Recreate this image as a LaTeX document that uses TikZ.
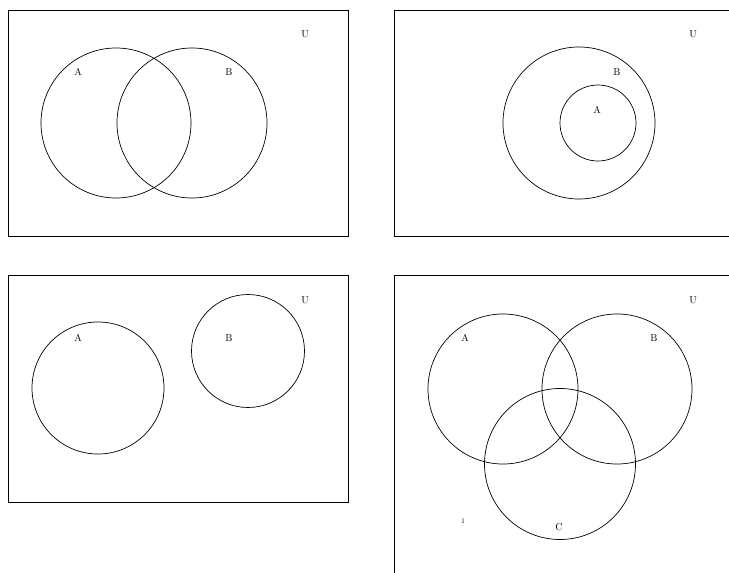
\documentclass[tikz,border=0pt]{standalone}
\begin{document}
\begin{tikzpicture}[x=1pt,y=-1pt,
  setcirc/.style={circle,draw,line width=0.7pt,inner sep=0pt,minimum size=#1},
  frame/.style={draw,line width=0.7pt},
  lab/.style={inner sep=0pt,font=\normalsize}]
\useasboundingbox (0,0) rectangle (729,573);
\clip (0,0) rectangle (729,573);
% panel 1
\draw[frame] (8,10) rectangle (348,236);
\node[setcirc=150pt] (p1a) at (116,123) {};
\node[setcirc=150pt] (p1b) at (192,123) {};
\node[lab] (p1la) at (78,72) {A};
\node[lab] (p1lb) at (229,72) {B};
\node[lab] (p1u) at (305,34) {U};
% panel 2
\draw[frame] (740,10) -- (394,10) -- (394,236) -- (740,236);
\node[setcirc=152pt] (p2b) at (579,123) {};
\node[setcirc=76pt] (p2a) at (598,123) {};
\node[lab] (p2lb) at (617,72) {B};
\node[lab] (p2la) at (597,110) {A};
\node[lab] (p2u) at (693,34) {U};
% panel 3
\draw[frame] (8,275) rectangle (348,502);
\node[setcirc=132pt] (p3a) at (98,388) {};
\node[setcirc=113pt] (p3b) at (248,351) {};
\node[lab] (p3la) at (78,338) {A};
\node[lab] (p3lb) at (229,338) {B};
\node[lab] (p3u) at (305,300) {U};
% panel 4
\draw[frame] (740,275) -- (394,275) -- (394,590);
\node[setcirc=150pt] (p4a) at (503,389) {};
\node[setcirc=150pt] (p4b) at (617,389) {};
\node[setcirc=151pt] (p4c) at (560,464) {};
\node[lab] (p4la) at (465,338) {A};
\node[lab] (p4lb) at (654,338) {B};
\node[lab] (p4lc) at (559,527) {C};
\node[lab] (p4u) at (693,300) {U};
\node[inner sep=0pt,font=\scriptsize] (p4one) at (463,521) {1};
\end{tikzpicture}
\end{document}
